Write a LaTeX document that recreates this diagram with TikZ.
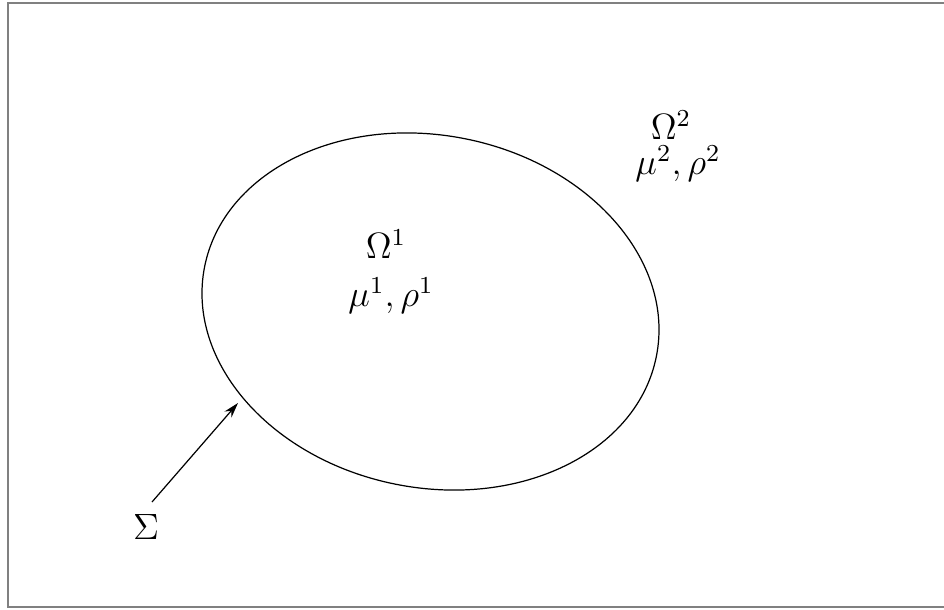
\documentclass[tikz,border=0pt]{standalone}
\usetikzlibrary{arrows.meta}
\begin{document}
\begin{tikzpicture}[x=0.3279pt,y=-0.3279pt,
  framestyle/.style={draw=gray,line width=0.6pt},
  blobstyle/.style={draw=black,line width=0.4pt},
  lbl/.style={inner sep=0pt,outer sep=0pt,font=\large},
  pointer/.style={draw=black,line width=0.4pt,-{Stealth[length=5pt,width=3pt]}}]
\clip (0,0) rectangle (944,610);
\useasboundingbox (0,0) rectangle (944,610);
% frame (open to the right)
\draw[framestyle] (960,3) -- (8,3) -- (8,607) -- (960,607);
% interface
\draw[blobstyle,rotate around={-11.2:(430.5,311.5)}] (430.5,311.5) ellipse [x radius=230.3, y radius=176.2];
% labels
\node[lbl] (om1) at (386,244) {$\Omega^1$};
\node[lbl] (mr1) at (391,296) {$\mu^1,\rho^1$};
\node[lbl] (om2) at (671,125) {$\Omega^2$};
\node[lbl] (mr2) at (678,164) {$\mu^2,\rho^2$};
\node[lbl] (sigma) at (146,527) {$\Sigma$};
\coordinate (sstart) at (152,502);
\coordinate (tip) at (238,403);
\draw[pointer] (sstart) -- (tip);
\end{tikzpicture}
\end{document}
